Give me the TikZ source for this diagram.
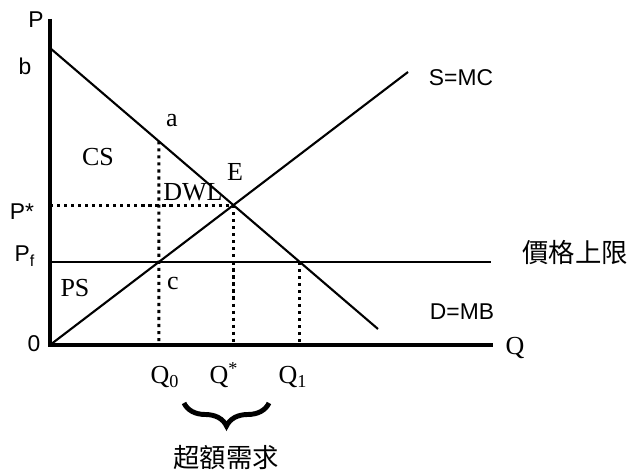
\documentclass[tikz,border=0pt]{standalone}
\usepackage{fontspec}
\setmainfont{Liberation Serif}
\setsansfont{Liberation Sans}
\newfontfamily\cjk{Noto Sans CJK TC}
\usetikzlibrary{decorations.pathreplacing}

\begin{document}
\begin{tikzpicture}[x=0.02cm,y=-0.02cm,
  axis/.style={line width=1.8pt},
  curve/.style={line width=1.2pt},
  guide/.style={line width=1.8pt,dash pattern=on 1.8pt off 2.2pt},
  lbl/.style={font=\sffamily\fontsize{13}{15}\selectfont},
  area/.style={font=\fontsize{14.8}{16}\selectfont},
  cjklbl/.style={font=\cjk\fontsize{15}{17}\selectfont}]

\useasboundingbox (0,0) rectangle (629,472);

% end points
\coordinate (O) at (50,345);
\coordinate (ytop) at (50,19);
\coordinate (xend) at (493,345);
\coordinate (bpt) at (50,48);
\coordinate (dend) at (378,329);
\coordinate (send) at (408,72);
\coordinate (cstart) at (50,262);
\coordinate (cend) at (491,262);

% crossing points
\coordinate (E) at (intersection of bpt--dend and O--send);
\coordinate (c) at (intersection of O--send and cstart--cend);
\coordinate (q1) at (intersection of bpt--dend and cstart--cend);
\coordinate (c0) at (c |- O);
\coordinate (a) at (intersection of bpt--dend and c--c0);

% dotted guides
\draw[guide] (O |- E) -- (E);
\draw[guide] (E) -- (E |- O);
\draw[guide] (a) -- (c0);
\draw[guide] (q1) -- (q1 |- O);

% curves
\draw[curve] (bpt) -- (dend);
\draw[curve] (O) -- (send);
\draw[curve,line width=1.5pt] (cstart) -- (cend);

% axes
\draw[axis] (ytop) -- (O |- xend);
\draw[axis] ([xshift=-1]O) -- (xend);

% labels
\node[lbl] (lP) at (36,20) {P};
\node[lbl] (lb) at (25,66) {b};
\node[lbl] (lPs) at (22,212) {P*};
\node[lbl] (lPf) at (25,256) {P\textsubscript{f}};
\node[lbl] (l0) at (34,344) {0};
\node[lbl] (lS) at (461,78) {S=MC};
\node[lbl] (lD) at (462,312) {D=MB};
\node[area] (la) at (172,121) {a};
\node[area] (lCS) at (98,157) {CS};
\node[area] (lE) at (235,172) {E};
\node[area] (lDWL) at (193,192) {DWL};
\node[area] (lPS) at (75,288) {PS};
\node[area] (lc) at (173,284) {c};
\node[area] (lQ0) at (165,377) {Q\textsubscript{0}};
\node[area] (lQs) at (224,375) {Q\textsuperscript{*}};
\node[area] (lQ1) at (293,377) {Q\textsubscript{1}};
\node[area] (lQ) at (515,348) {Q};
\node[cjklbl] (lcap) at (575,253) {價格上限};
\node[cjklbl] (lex) at (226,458) {超額需求};

% excess demand brace
\coordinate (br1) at (184,403);
\coordinate (br2) at (269,403);
\draw[line width=2.8pt,decorate,decoration={brace,mirror,amplitude=0.46cm}] (br1) -- (br2);

\end{tikzpicture}
\end{document}
